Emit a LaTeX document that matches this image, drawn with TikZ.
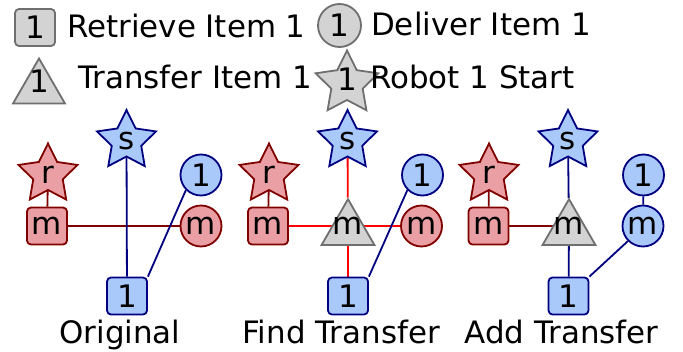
\documentclass[tikz,border=0pt]{standalone}
\usepackage{fontspec}
\setmainfont{DejaVu Sans}
\usetikzlibrary{shapes.geometric,backgrounds}
\definecolor{bfill}{HTML}{A9C9FA}
\definecolor{rfill}{HTML}{E99FA3}
\definecolor{gfill}{HTML}{D3D3D3}
\definecolor{gline}{HTML}{6F6F6F}
\definecolor{navyc}{HTML}{000080}
\definecolor{dred}{HTML}{800000}
\definecolor{bred}{HTML}{FF0000}
\newcommand{\lifted}[2]{\makebox[0pt]{\raisebox{#1}[0pt][0pt]{#2}}}
\tikzset{
  base/.style={line width=1.8pt, inner sep=0pt, font=\fontsize{31}{36}\selectfont},
  bnode/.style={base, draw=navyc, fill=bfill},
  rnode/.style={base, draw=dred, fill=rfill},
  gnode/.style={base, draw=gline, fill=gfill},
  sqbox/.style={rectangle, rounded corners=4pt, minimum width=40pt, minimum height=37pt},
  circ/.style={circle, minimum size=41pt},
  starn/.style={star, star points=5, star point ratio=2.0, minimum size=62pt},
  trin/.style={regular polygon, regular polygon sides=3, minimum size=61pt},
  txt/.style={font=\fontsize{30.9}{36}\selectfont, inner sep=0pt},
  nedge/.style={draw=navyc, line width=1.8pt},
  dedge/.style={draw=dred, line width=1.8pt},
  redge/.style={draw=bred, line width=1.8pt},
}
\begin{document}
\begin{tikzpicture}[x=1pt,y=-1pt]
\useasboundingbox (0,0) rectangle (683,351);
% legend
\node[gnode, sqbox] (lsq) at (35,27.5) {1};
\node[txt, anchor=base west] (lsqt) at (67,37.5) {Retrieve Item 1};
\node[gnode, circ, minimum size=43pt] (lci) at (339.5,25.5) {1};
\node[txt, anchor=base west] (lcit) at (371,35.5) {Deliver Item 1};
\node[gnode, trin, minimum size=60pt] (ltr) at (39,88.5) {\lifted{-4.1pt}{1}};
\node[txt, anchor=base west] (ltrt) at (78,88) {Transfer Item 1};
\node[gnode, starn, minimum size=66pt] (lst) at (347,83.5) {\lifted{-7.1pt}{1}};
\node[txt, anchor=base west] (lstt) at (370,88) {Robot 1 Start};
% panel 1
\node[rnode, starn] (ar) at (48,174.5) {r};
\node[rnode, sqbox] (am) at (47,226) {m};
\node[bnode, starn] (as) at (126.5,141) {s};
\node[bnode, circ] (ac) at (201,175) {1};
\node[rnode, circ] (acm) at (201,226) {m};
\node[bnode, sqbox] (aq) at (127,296) {1};
\node[txt, anchor=base] (al) at (120,343) {Original};
% panel 2
\node[rnode, starn] (br) at (269,174.5) {r};
\node[rnode, sqbox] (bm) at (268,226) {m};
\node[bnode, starn] (bs) at (347.5,141) {s};
\node[gnode, trin] (bt) at (348,229.7) {\lifted{-4.6pt}{m}};
\node[bnode, circ] (bc) at (422.5,175) {1};
\node[rnode, circ] (bcm) at (421.5,226) {m};
\node[bnode, sqbox] (bq) at (348,296) {1};
\node[txt, anchor=base] (bl) at (341,343) {Find Transfer};
% panel 3
\node[rnode, starn] (cr) at (489,174.5) {r};
\node[rnode, sqbox] (cm) at (488.5,226) {m};
\node[bnode, starn] (cs) at (568,141) {s};
\node[gnode, trin] (ct) at (569,229.7) {\lifted{-4.6pt}{m}};
\node[bnode, circ] (cc) at (643.5,175) {1};
\node[bnode, circ] (ccm) at (643,226) {m};
\node[bnode, sqbox] (cq) at (568.5,296) {1};
\node[txt, anchor=base] (cl) at (561.5,343) {Add Transfer};
% edges
\begin{scope}[on background layer]
  \draw[dedge] (ar) -- (am);
  \draw[dedge] (am) -- (acm);
  \draw[nedge] (as) -- (aq);
  \draw[nedge] (aq.north east) -- (ac.south west);
  \draw[dedge] (br) -- (bm);
  \draw[redge] (bm) -- (bm -| bt);
  \draw[redge] (bcm -| bt) -- (bcm);
  \draw[redge] (bs) -- (bt);
  \draw[redge] (bt) -- (bq);
  \draw[nedge] (bq.north east) -- (bc.south west);
  \draw[dedge] (cr) -- (cm);
  \draw[dedge] (cm) -- (cm -| ct);
  \draw[nedge] (cs) -- (ct);
  \draw[nedge] (ct) -- (cq);
  \draw[nedge] (cq.north east) -- (ccm.south west);
  \draw[nedge] (cc) -- (ccm);
\end{scope}
\end{tikzpicture}
\end{document}
